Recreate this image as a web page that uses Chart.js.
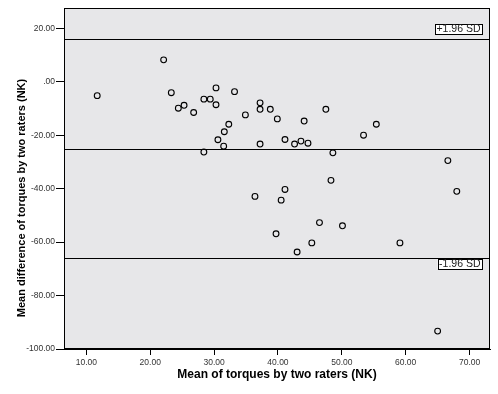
<!DOCTYPE html>
<html>
<head>
<meta charset="utf-8">
<script src="https://cdn.jsdelivr.net/npm/chart.js@4.4.0/dist/chart.umd.min.js"></script>
<style>
html,body{margin:0;padding:0;background:#fff;}
#wrap{width:498px;height:394px;}
</style>
</head>
<body>
<div id="wrap"><canvas id="c" width="498" height="394"></canvas></div>
<script>
// Mean of torques by two raters (x) and mean difference (y)
const meanTorque = [11.7,22.1,23.3,24.4,25.3,26.8,28.4,29.4,30.3,30.3,33.2,34.9,37.2,37.2,38.8,39.9,32.3,31.6,30.6,31.5,28.4,37.2,47.5,44.1,41.1,42.6,43.6,44.7,48.6,53.4,55.4,66.6,48.3,41.1,36.4,40.5,68.0,46.5,50.1,39.7,45.3,59.1,43.0,65.0];
const meanDiff   = [-5.2,8.2,-4.1,-9.9,-8.8,-11.5,-6.5,-6.5,-2.3,-8.6,-3.7,-12.4,-7.9,-10.3,-10.3,-13.9,-15.9,-18.7,-21.7,-24.1,-26.3,-23.3,-10.3,-14.7,-21.6,-23.3,-22.2,-23.0,-26.6,-20.0,-15.9,-29.5,-36.9,-40.3,-42.9,-44.3,-41.0,-52.7,-53.9,-56.9,-60.3,-60.3,-63.7,-93.3];
const xTickValues = [10,20,30,40,50,60,70];
const xTickLabels = ['10.00','20.00','30.00','40.00','50.00','60.00','70.00'];
const yTickValues = [20,0,-20,-40,-60,-80,-100];
const yTickLabels = ['20.00','.00','-20.00','-40.00','-60.00','-80.00','-100.00'];
const refLines = [
  {value: 15.9, label: '+1.96 SD', pos: 'above'},
  {value: -25.3, label: null},
  {value: -65.9, label: '-1.96 SD', pos: 'below'}
];
const xTitle = 'Mean of torques by two raters (NK)';
const yTitle = 'Mean difference of torques by two raters (NK)';

const FONT = 'Arial, "Liberation Sans", Helvetica, sans-serif';

const framePlugin = {
  id: 'frame',
  beforeDatasetsDraw(chart) {
    const {ctx, chartArea: a, scales} = chart;
    ctx.save();
    ctx.fillStyle = '#e7e7e9';
    ctx.fillRect(a.left, a.top, a.right - a.left, a.bottom - a.top);
    ctx.strokeStyle = '#000';
    ctx.lineWidth = 1;
    refLines.forEach(r => {
      const y = Math.round(scales.y.getPixelForValue(r.value)) + 0.5;
      ctx.beginPath();
      ctx.moveTo(a.left, y);
      ctx.lineTo(a.right, y);
      ctx.stroke();
    });
    ctx.font = '10.5px ' + FONT;
    ctx.textBaseline = 'middle';
    ctx.textAlign = 'left';
    refLines.forEach(r => {
      if (!r.label) return;
      const y = Math.round(scales.y.getPixelForValue(r.value));
      const w = ctx.measureText(r.label).width + 3;
      const h = 10;
      const x0 = a.right - 8 - w;
      const y0 = r.pos === 'above' ? y - 5 - h : y + 1;
      ctx.fillStyle = '#fff';
      ctx.fillRect(x0, y0, w, h);
      ctx.strokeRect(Math.round(x0) + 0.5, Math.round(y0) + 0.5, Math.round(w), h);
      ctx.fillStyle = '#222';
      ctx.fillText(r.label, x0 + 1.5, y0 + h / 2 + 0.5);
    });
    ctx.restore();
  },
  afterDraw(chart) {
    const {ctx, chartArea: a} = chart;
    ctx.save();
    ctx.strokeStyle = '#000';
    ctx.lineWidth = 1;
    ctx.strokeRect(Math.round(a.left) + 0.5, Math.round(a.top) + 0.5, Math.round(a.right - a.left) - 1, Math.round(a.bottom - a.top) - 1);
    ctx.fillStyle = '#000';
    ctx.font = 'bold 12px ' + FONT;
    ctx.textAlign = 'center';
    ctx.textBaseline = 'middle';
    ctx.fillText(xTitle, (a.left + a.right) / 2, 375);
    ctx.translate(22, 198);
    ctx.rotate(-Math.PI / 2);
    ctx.font = 'bold 11px ' + FONT;
    ctx.fillText(yTitle, 0, 0);
    ctx.restore();
  }
};

new Chart(document.getElementById('c'), {
  type: 'scatter',
  data: {
    datasets: [{
      data: meanTorque.map((x, i) => ({x: x, y: meanDiff[i]})),
      pointStyle: 'circle',
      pointRadius: 2.9,
      pointBorderWidth: 1.1,
      borderColor: '#000',
      backgroundColor: 'rgba(0,0,0,0)',
      pointHoverRadius: 2.9
    }]
  },
  options: {
    responsive: false,
    animation: false,
    layout: {padding: {top: 8, right: 8, left: 0, bottom: 0}},
    plugins: {legend: {display: false}, tooltip: {enabled: false}},
    scales: {
      x: {
        type: 'linear',
        min: 6.5, max: 73.2,
        afterBuildTicks: s => { s.ticks = xTickValues.map(v => ({value: v})); },
        afterFit: s => { s.height = 45; },
        ticks: {
          callback: v => xTickLabels[xTickValues.indexOf(v)],
          font: {size: 8.5, family: FONT},
          color: '#333',
          padding: 3,
          maxRotation: 0,
          autoSkip: false
        },
        grid: {drawOnChartArea: false, drawTicks: true, tickLength: 6, color: '#000'},
        border: {display: true, color: '#000'}
      },
      y: {
        type: 'linear',
        min: -100, max: 27.6,
        afterBuildTicks: s => { s.ticks = yTickValues.map(v => ({value: v})); },
        afterFit: s => { s.width = 64; },
        ticks: {
          callback: v => yTickLabels[yTickValues.indexOf(v)],
          font: {size: 8.5, family: FONT},
          color: '#333',
          padding: 1,
          autoSkip: false
        },
        grid: {drawOnChartArea: false, drawTicks: true, tickLength: 8, color: '#000'},
        border: {display: true, color: '#000'}
      }
    }
  },
  plugins: [framePlugin]
});
</script>
</body>
</html>
